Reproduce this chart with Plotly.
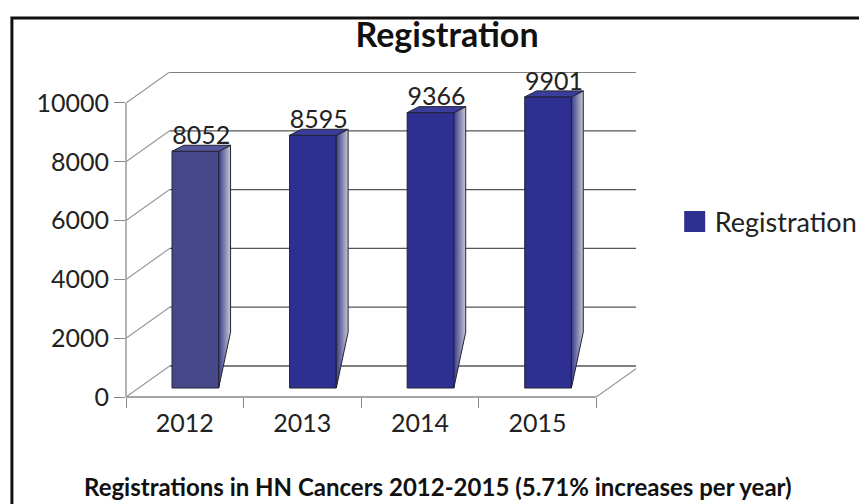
import plotly.graph_objects as go

# ---- data ----
years = ["2012", "2013", "2014", "2015"]
registrations = [8052, 8595, 9366, 9901]
y_ticks = [0, 2000, 4000, 6000, 8000, 10000]
y_tick_text = ["0", "2000", "4000", "6000", "8000", "10000"]
series_name = "Registration"
chart_title = "Registration"
caption = "Registrations in HN Cancers 2012-2015 (5.71% increases per year)"

# ---- style / pseudo-3D geometry (in axis units) ----
FONT = "Lato"
X_MAX = 3.838
Y_MAX = 11054
DEPTH_X = 0.371      # wall depth offset along x
DEPTH_Y = 1054       # wall depth offset along y
BAR_SHIFT = 0.09     # front face shift into depth
BAR_BASE = 306       # bar base raised by depth
BAR_W = 0.397
SIDE_DX = 0.101
SIDE_DY = 204
SIDE_CUT = 1900
LABEL_DROP = 170
front_colors = ["#47488a", "#2d3091", "#2d3091", "#2d3091"]
top_colors = ["#55569a", "#3a3d9c", "#3a3d9c", "#3a3d9c"]
EDGE = "#222233"
PAGE_OFF = 8  # default page margin around the figure

idx = list(range(len(years)))
xc = [i + BAR_SHIFT for i in idx]

fig = go.Figure()

# front faces
fig.add_trace(go.Bar(
    x=xc, y=registrations, base=[BAR_BASE] * len(registrations), width=BAR_W,
    marker=dict(color=front_colors, line=dict(color=EDGE, width=1)),
    showlegend=False, hoverinfo="skip",
))

# side and top faces computed from values
for i, v in enumerate(registrations):
    xl = xc[i] - BAR_W / 2
    xr = xc[i] + BAR_W / 2
    top = BAR_BASE + v
    fig.add_trace(go.Scatter(
        x=[xr, xr, xr + SIDE_DX, xr + SIDE_DX, xr],
        y=[BAR_BASE, top, top + SIDE_DY, BAR_BASE + SIDE_CUT, BAR_BASE],
        mode="lines", fill="toself",
        fillgradient=dict(type="horizontal",
                          colorscale=[[0, "#3a3b8c"], [1, "#c8c8d2"]]),
        line=dict(color=EDGE, width=1), showlegend=False, hoverinfo="skip",
    ))
    fig.add_trace(go.Scatter(
        x=[xl, xr, xr + SIDE_DX, xl + SIDE_DX, xl],
        y=[top, top, top + SIDE_DY, top + SIDE_DY, top],
        mode="lines", fill="toself", fillcolor=top_colors[i],
        line=dict(color=EDGE, width=1), showlegend=False, hoverinfo="skip",
    ))

# data labels
fig.add_trace(go.Scatter(
    x=[c + SIDE_DX / 2 for c in xc],
    y=[BAR_BASE + v + SIDE_DY - LABEL_DROP for v in registrations],
    mode="text", text=[str(v) for v in registrations],
    textposition="top center",
    textfont=dict(family=FONT, size=25, color="#222222"),
    cliponaxis=False, showlegend=False, hoverinfo="skip",
))

# legend entry
fig.add_trace(go.Scatter(
    x=[None], y=[None], mode="markers", name=series_name,
    marker=dict(symbol="square", size=16, color="#2d3091",
                line=dict(width=5, color="#2d3091")),
))

# ---- walls / gridlines as shapes (below traces) ----
shapes = []
for v in y_ticks:
    shapes.append(dict(type="line", xref="x", yref="y", layer="below",
                       x0=-0.5 + DEPTH_X, x1=X_MAX, y0=v + DEPTH_Y, y1=v + DEPTH_Y,
                       line=dict(color="#555555", width=1.3)))
    shapes.append(dict(type="line", xref="x", yref="y", layer="below",
                       x0=-0.5, x1=-0.5 + DEPTH_X, y0=v, y1=v + DEPTH_Y,
                       line=dict(color="#9a9a9a", width=1.2)))
# floor right diagonal
shapes.append(dict(type="line", xref="x", yref="y", layer="below",
                   x0=len(years) - 0.5, x1=len(years) - 0.5 + DEPTH_X, y0=0, y1=DEPTH_Y,
                   line=dict(color="#9a9a9a", width=1.2)))
# front floor line
shapes.append(dict(type="line", xref="x", yref="paper", layer="below",
                   x0=-0.5, x1=len(years) - 0.5, y0=0, y1=0,
                   line=dict(color="#888888", width=1.3)))
# front value axis line
shapes.append(dict(type="line", xref="paper", yref="y", layer="below",
                   x0=0, x1=0, y0=0, y1=y_ticks[-1],
                   line=dict(color="#888888", width=1.3)))
# outer frame
shapes.append(dict(type="rect", xref="paper", yref="paper",
                   x0=-0.2237, x1=1.6, y0=-0.6, y1=1.166,
                   line=dict(color="#111111", width=3)))

W, H = 867, 504 - PAGE_OFF
PLOT_RIGHT = 640 - PAGE_OFF

fig.update_layout(
    width=W, height=H,
    margin=dict(l=126 - PAGE_OFF, r=W - PLOT_RIGHT, t=72 - PAGE_OFF, b=107),
    paper_bgcolor="white", plot_bgcolor="white",
    barmode="overlay",
    font=dict(family=FONT, color="#222222"),
    title=dict(text="<b>" + chart_title + "</b>", x=(447 - PAGE_OFF) / W, xanchor="center",
               y=1 - (35 - PAGE_OFF) / H, yanchor="middle",
               font=dict(family=FONT, size=34, color="#111111")),
    xaxis=dict(range=[-0.5, X_MAX], tickvals=[i - 0.5 for i in range(len(years) + 1)],
               showticklabels=False, ticks="outside", ticklen=10, tickcolor="#888888",
               showgrid=False, zeroline=False, showline=False, fixedrange=True),
    xaxis2=dict(range=[-0.5, X_MAX], overlaying="x", anchor="y", side="bottom",
                tickvals=idx, ticktext=years, ticks="outside", ticklen=4,
                tickcolor="rgba(0,0,0,0)",
                tickfont=dict(family=FONT, size=25, color="#222222"),
                showgrid=False, zeroline=False, showline=False),
    yaxis=dict(range=[0, Y_MAX], tickvals=y_ticks, ticktext=y_tick_text,
               ticks="outside", ticklen=11,
               tickcolor="#888888", tickfont=dict(family=FONT, size=25, color="#222222"),
               showgrid=False, zeroline=False, showline=False),
    legend=dict(x=(679 - 126) / 514, xanchor="left", y=(397 - 222) / 325, yanchor="middle",
                font=dict(family=FONT, size=27, color="#222222"),
                bgcolor="rgba(0,0,0,0)"),
    shapes=shapes,
    annotations=[dict(text="<b>" + caption + "</b>", xref="paper", yref="paper",
                      x=(440 - 126) / 514, y=(397 - 487) / 325,
                      xanchor="center", yanchor="middle", showarrow=False,
                      font=dict(family=FONT, size=24, color="#111111"))],
)

# dummy trace on xaxis2 so the overlay axis renders its labels
fig.add_trace(go.Scatter(x=[None], y=[None], xaxis="x2", showlegend=False, hoverinfo="skip"))

fig.write_html("out.html")
